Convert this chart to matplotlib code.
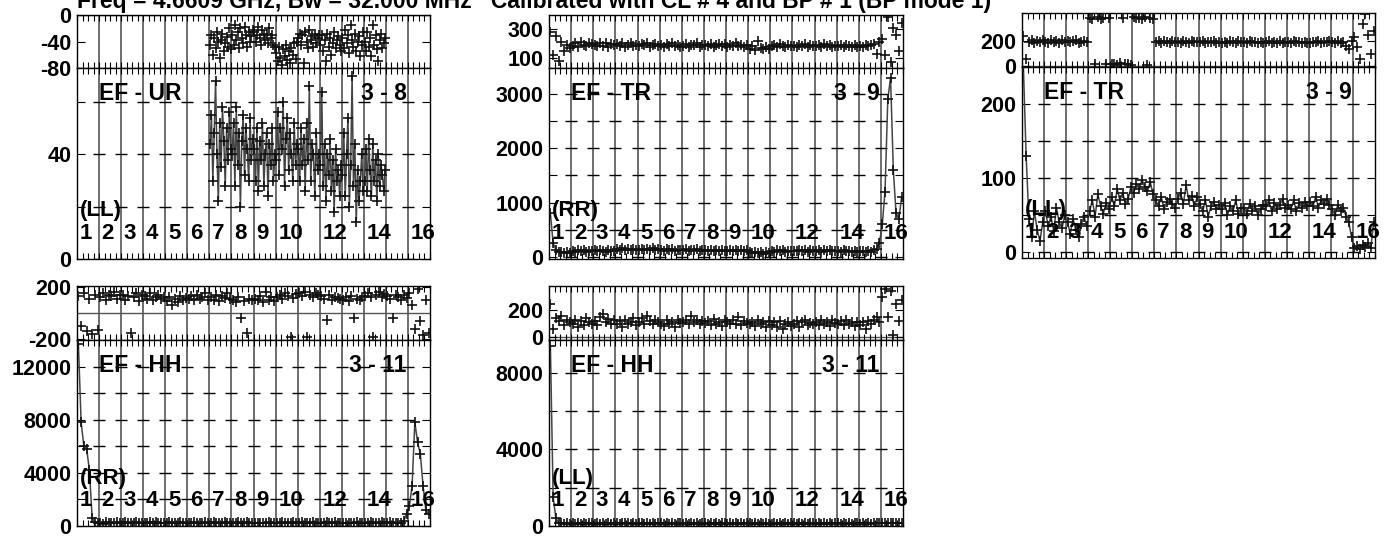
import matplotlib.pyplot as plt
from matplotlib.ticker import MultipleLocator
import numpy as np

plt.rcParams['font.family'] = ['Liberation Sans', 'DejaVu Sans']
plt.rcParams['font.weight'] = 'bold'

title = 'Freq = 4.6609 GHz, Bw = 32.000 MHz   Calibrated with CL # 4 and BP # 1 (BP mode 1)'
if_labels = ['1', '2', '3', '4', '5', '6', '7', '8', '9', '10', '', '12', '', '14', '', '16']
N = None

# panel 1: EF - UR, 3 - 8, (LL)   -- only IFs 7..14 have data
p1_phase = [[N] * 8] * 6 + [
    [-45, -30, -60, -35, -50, -25, -40, -65, -38, -28, -55, -42, -33, -48, -20, -52],
    [-30, -45, -15, -38, -25, -50, -20, -35, -42, -18, -30, -48, -25, -40, -32, -22],
    [-25, -40, -30, -18, -35, -45, -22, -30, -38, -28, -42, -20, -35, -30, -45, -48],
    [-58, -70, -48, -65, -75, -52, -62, -45, -68, -55, -72, -50, -60, -42, -66, -40],
    [-35, -28, -45, -30, -72, -25, -40, -50, -22, -38, -32, -48, -28, -42, -35, -30],
    [-45, -30, -55, -38, -70, -28, -48, -35, -60, -42, -25, -50, -38, -32, -45, -55],
    [-35, -50, -22, -42, -30, -58, -15, -38, -48, -28, -55, -40, -32, -62, -45, -25],
    [-40, -55, -25, -48, -35, -62, -15, -45, -30, -52, -70, -38, -28, -50, -42, -35],
] + [[N] * 8] * 2
p1_amp = [[N] * 8] * 6 + [
    [44, 55, 30, 48, 68, 40, 22, 52, 35, 58, 45, 28, 50, 38, 56, 42],
    [40, 52, 28, 58, 36, 48, 20, 45, 55, 32, 50, 42, 30, 54, 38, 46],
    [42, 30, 50, 26, 45, 38, 52, 28, 40, 48, 24, 44, 36, 50, 30, 40],
    [38, 56, 32, 50, 42, 60, 28, 46, 54, 34, 48, 40, 30, 52, 36, 44],
    [42, 30, 50, 36, 46, 26, 52, 38, 66, 30, 44, 40, 24, 48, 34, 40],
    [36, 64, 28, 44, 22, 40, 32, 46, 26, 38, 18, 42, 30, 34, 24, 36],
    [32, 48, 24, 40, 54, 20, 36, 70, 28, 44, 14, 34, 22, 30, 40, 26],
    [30, 42, 26, 46, 34, 24, 44, 30, 38, 22, 40, 28, 36, 32, 26, 34],
] + [[N] * 8] * 2

# panel 2: EF - TR, 3 - 9, (RR)
p2_phase = [
    [280, 120, 250, 80, 210, 150, 190, 170],
    [185, 200, 175, 210, 190, 180, 205, 195],
    [190, 180, 205, 185, 200, 175, 195, 188],
    [195, 182, 200, 178, 192, 205, 185, 190],
    [180, 195, 188, 202, 175, 190, 198, 182],
    [188, 175, 195, 185, 200, 180, 192, 178],
    [182, 195, 178, 190, 186, 200, 175, 188],
    [190, 180, 198, 175, 188, 194, 182, 196],
    [178, 192, 185, 200, 180, 188, 175, 190],
    [165, 180, 155, 215, 170, 160, 175, 165],
    [180, 190, 172, 195, 185, 176, 192, 182],
    [184, 175, 192, 180, 196, 172, 186, 180],
    [182, 190, 175, 196, 180, 188, 172, 184],
    [180, 186, 172, 192, 182, 175, 190, 176],
    [184, 175, 192, 180, 190, 195, 130, 210],
    [230, 120, 380, 70, 310, 260, 150, 340],
]
p2_amp = [
    [800, 250, 130, 95, 80, 70, 85, 75],
    [110, 90, 130, 100, 120, 85, 115, 105],
    [120, 100, 135, 110, 95, 125, 105, 115],
    [140, 125, 160, 130, 150, 120, 145, 135],
    [135, 150, 120, 145, 130, 155, 125, 140],
    [130, 115, 145, 125, 140, 110, 135, 120],
    [125, 140, 115, 135, 120, 145, 110, 130],
    [120, 105, 135, 115, 130, 100, 125, 110],
    [115, 130, 100, 125, 110, 135, 105, 120],
    [80, 65, 95, 70, 85, 60, 90, 75],
    [110, 95, 125, 105, 120, 90, 115, 100],
    [115, 100, 130, 110, 125, 95, 120, 105],
    [110, 125, 95, 120, 105, 130, 100, 115],
    [105, 90, 120, 100, 115, 85, 110, 95],
    [100, 115, 90, 110, 95, 120, 150, 260],
    [600, 1200, 2900, 3300, 1600, 800, 700, 1100],
]

# panel 3: EF - TR, 3 - 9, (LL)
p3_phase = [
    [240, 60, 190, 210, 185, 200, 195, 205],
    [195, 185, 205, 190, 200, 180, 210, 195],
    [200, 188, 196, 205, 185, 192, 202, 190],
    [380, 375, 20, 385, 372, 378, 15, 382],
    [18, 22, 12, 25, 380, 15, 20, 10],
    [385, 378, 382, 375, 388, 10, 380, 376],
    [188, 196, 182, 200, 190, 185, 198, 192],
    [194, 186, 200, 190, 184, 196, 188, 192],
    [190, 198, 184, 194, 188, 200, 186, 192],
    [186, 194, 182, 198, 190, 184, 196, 188],
    [192, 184, 198, 188, 194, 182, 190, 186],
    [188, 196, 184, 192, 186, 198, 182, 190],
    [190, 184, 196, 188, 194, 186, 192, 184],
    [186, 194, 188, 198, 184, 192, 190, 196],
    [192, 186, 198, 184, 190, 160, 140, 200],
    [230, 150, 60, 330, 410, 250, 100, 280],
]
p3_amp = [
    [250, 130, 45, 20, 55, 30, 15, 40],
    [55, 35, 48, 28, 60, 40, 32, 50],
    [40, 25, 45, 30, 20, 38, 48, 35],
    [55, 70, 48, 78, 62, 52, 66, 58],
    [75, 62, 85, 70, 80, 65, 72, 88],
    [80, 92, 85, 98, 88, 82, 95, 78],
    [70, 62, 75, 58, 68, 72, 65, 60],
    [72, 80, 65, 90, 70, 76, 62, 74],
    [65, 55, 70, 48, 62, 68, 58, 64],
    [58, 66, 50, 62, 55, 70, 52, 60],
    [60, 52, 65, 56, 62, 50, 58, 64],
    [62, 70, 55, 66, 58, 64, 72, 60],
    [64, 58, 70, 55, 66, 60, 68, 62],
    [68, 62, 75, 60, 70, 65, 72, 64],
    [58, 50, 64, 55, 60, 48, 40, 20],
    [5, 8, 4, 10, 7, 12, 6, 40],
]

# panel 4: EF - HH, 3 - 11, (RR)
p4_phase = [
    [130, -100, 150, -140, 110, -160, 140, -130],
    [120, 150, 100, 140, 130, 160, 110, 135],
    [140, 100, 130, -150, 120, 150, 90, 135],
    [130, 110, 150, 95, 125, 140, 105, 120],
    [90, 120, 60, 110, 80, 130, 100, 115],
    [110, 130, 95, 140, 105, 120, 150, 100],
    [120, 100, 140, 90, 130, 115, 150, 105],
    [100, 80, 120, -40, 90, -150, 110, 95],
    [110, 95, 130, 85, 160, 100, 120, 90],
    [120, 140, 105, 150, 130, -180, 115, 145],
    [150, 130, 160, -180, 140, 120, 155, 135],
    [130, 110, -50, 140, 100, 125, 115, 105],
    [100, 120, 90, 130, -40, 110, 95, 125],
    [130, 150, 120, -180, 140, 160, 125, 145],
    [130, 110, -40, 140, 120, 100, 135, 115],
    [150, 60, -120, 180, -60, -170, 100, -150],
]
p4_amp = [
    [13700, 7800, 6000, 5800, 4200, 600, 300, 200],
    [250, 180, 300, 220, 260, 190, 280, 230],
    [240, 280, 200, 260, 230, 290, 210, 250],
    [260, 220, 290, 240, 270, 200, 250, 230],
    [230, 270, 210, 250, 220, 280, 240, 260],
    [250, 210, 280, 230, 260, 200, 270, 240],
    [240, 270, 220, 260, 230, 280, 210, 250],
    [260, 230, 280, 210, 250, 270, 220, 240],
    [230, 260, 200, 250, 220, 270, 240, 230],
    [250, 220, 270, 240, 260, 210, 280, 230],
    [240, 280, 220, 260, 230, 270, 210, 250],
    [260, 230, 270, 220, 250, 280, 240, 230],
    [230, 260, 210, 250, 240, 270, 220, 260],
    [250, 220, 280, 230, 260, 240, 270, 220],
    [240, 270, 230, 260, 220, 250, 400, 900],
    [1500, 3000, 7800, 6300, 5400, 3000, 1200, 900],
]

# panel 5: EF - HH, 3 - 11, (LL)
p5_phase = [
    [250, 60, 140, 120, 160, 90, 130, 110],
    [100, 130, 80, 120, 90, 140, 110, 95],
    [120, 90, 150, 170, 110, 135, 100, 125],
    [95, 120, 80, 130, 100, 110, 140, 90],
    [110, 140, 95, 160, 120, 100, 130, 115],
    [100, 85, 125, 95, 115, 80, 130, 105],
    [115, 130, 100, 160, 110, 125, 95, 120],
    [105, 120, 90, 135, 100, 115, 85, 125],
    [110, 95, 130, 100, 150, 90, 120, 105],
    [100, 115, 85, 125, 95, 110, 80, 120],
    [90, 110, 75, 120, 60, 100, 115, 85],
    [95, 120, 80, 110, 130, 90, 105, 100],
    [110, 90, 125, 100, 115, 85, 130, 105],
    [100, 120, 90, 130, 95, 115, 85, 110],
    [90, 110, 60, 120, 100, 130, 150, 110],
    [300, 360, 150, 340, 20, 250, 120, 280],
]
p5_amp = [
    [9400, 1500, 400, 180, 150, 120, 140, 130],
    [140, 110, 160, 130, 150, 120, 155, 135],
    [130, 150, 115, 145, 125, 160, 120, 140],
    [150, 120, 165, 135, 145, 115, 155, 130],
    [135, 155, 120, 150, 130, 160, 125, 145],
    [145, 120, 160, 130, 150, 115, 140, 135],
    [130, 150, 115, 145, 125, 155, 120, 140],
    [140, 125, 160, 130, 150, 120, 145, 135],
    [125, 150, 115, 140, 130, 155, 120, 145],
    [145, 120, 155, 130, 140, 115, 150, 125],
    [130, 150, 120, 145, 125, 160, 115, 140],
    [140, 125, 155, 130, 150, 120, 145, 135],
    [125, 145, 115, 140, 130, 155, 120, 150],
    [145, 120, 160, 130, 150, 125, 140, 135],
    [130, 150, 120, 145, 125, 160, 170, 150],
    [160, 140, 180, 150, 170, 145, 165, 155],
]

panels = [
    dict(x=(77, 430), y=(15, 68, 259), name='EF - UR', bl='3 - 8', pol='(LL)',
         ph=p1_phase, amp=p1_amp, phlim=(-80, 0), phticks=[-80, -40, 0],
         alim=(0, 73), aticks=[0, 40], astep=20),
    dict(x=(549, 903), y=(15, 68, 259), name='EF - TR', bl='3 - 9', pol='(RR)',
         ph=p2_phase, amp=p2_amp, phlim=(30, 397), phticks=[100, 300],
         alim=(-40, 3480), aticks=[0, 1000, 2000, 3000], astep=500),
    dict(x=(1022, 1375), y=(13, 67, 258), name='EF - TR', bl='3 - 9', pol='(LL)',
         ph=p3_phase, amp=p3_amp, phlim=(-5, 420), phticks=[0, 200],
         alim=(-8, 250), aticks=[0, 100, 200], astep=50),
    dict(x=(77, 430), y=(286, 340, 526), name='EF - HH', bl='3 - 11', pol='(RR)',
         ph=p4_phase, amp=p4_amp, phlim=(-205, 205), phticks=[-200, 200],
         alim=(0, 14000), aticks=[0, 4000, 8000, 12000], astep=2000),
    dict(x=(549, 903), y=(286, 340, 526), name='EF - HH', bl='3 - 11', pol='(LL)',
         ph=p5_phase, amp=p5_amp, phlim=(-20, 380), phticks=[0, 200],
         alim=(0, 9700), aticks=[0, 4000, 8000], astep=2000),
]

W, H = 1396, 537
fig = plt.figure(figsize=(W / 100, H / 100), dpi=100)
fig.text(77 / W, 1 - 8 / H, title, fontsize=16.5, fontweight='bold', va='baseline', ha='left')

n_if = 16


def xy(data):
    xs, ys = [], []
    for i, chans in enumerate(data):
        n = len(chans)
        for j, v in enumerate(chans):
            xs.append(i + (j + 0.5) / n)
            ys.append(np.nan if v is None else v)
    return np.array(xs), np.array(ys)


def style(ax, ylim, ticks, step):
    ax.set_xlim(0, n_if)
    ax.set_ylim(*ylim)
    ax.set_yticks(ticks)
    ax.set_yticklabels([str(t) for t in ticks], fontsize=15.5, fontweight='bold')
    ax.set_xticks([])
    ax.xaxis.set_minor_locator(MultipleLocator(0.25))
    ax.tick_params(axis='x', which='minor', direction='in', length=4, width=0.8, top=True, bottom=True)
    ax.tick_params(axis='y', which='major', direction='in', length=6, width=0.8, right=True, pad=4)
    if step:
        ax.yaxis.set_minor_locator(MultipleLocator(step))
        ax.tick_params(axis='y', which='minor', direction='in', length=6, width=0.8, right=True)
    for sp in ax.spines.values():
        sp.set_linewidth(1.0)
    for b in range(1, n_if):
        ax.axvline(b, color='#555555', lw=1.2, zorder=1)
    if step:
        levels = np.arange(np.ceil(ylim[0] / step) * step, ylim[1], step)
        bx, by = np.meshgrid(np.arange(1, n_if), levels)
        ax.plot(bx.ravel(), by.ravel(), ls='none', marker='_', ms=8, mew=1.0, color='black', zorder=1)


for p in panels:
    x0, x1 = p['x']
    ytop, ysplit, ybot = p['y']
    axp = fig.add_axes([x0 / W, 1 - ysplit / H, (x1 - x0) / W, (ysplit - ytop) / H])
    axa = fig.add_axes([x0 / W, 1 - ybot / H, (x1 - x0) / W, (ybot - ysplit) / H])

    style(axp, p['phlim'], p['phticks'], None)
    axp.axhline(0, color='#555555', lw=1.0, zorder=1)
    px, py = xy(p['ph'])
    axp.plot(px, py, ls='none', marker='+', ms=7.5, mew=1.2, color='#111111', zorder=3)

    style(axa, p['alim'], p['aticks'], p['astep'])
    ax_, ay = xy(p['amp'])
    axa.plot(ax_, ay, '-', lw=1.1, color='#444444', zorder=2)
    axa.plot(ax_, ay, ls='none', marker='+', ms=7.5, mew=1.2, color='#111111', zorder=3)

    tr = axa.get_xaxis_transform()
    for i, lab in enumerate(if_labels):
        if lab:
            axa.text(i + 0.12, 0.105, lab, transform=tr,
                     fontsize=16, fontweight='bold', ha='left', va='baseline', zorder=4)
    axa.text(0.12, 0.225, p['pol'], transform=tr,
             fontsize=16, fontweight='bold', ha='left', va='baseline', zorder=4)
    axa.text(1.0, 0.83, p['name'], transform=tr,
             fontsize=16.5, fontweight='bold', ha='left', va='baseline', zorder=4)
    axa.text(14.95, 0.83, p['bl'], transform=tr,
             fontsize=16.5, fontweight='bold', ha='right', va='baseline', zorder=4)

fig.savefig('out.png', dpi=100)
